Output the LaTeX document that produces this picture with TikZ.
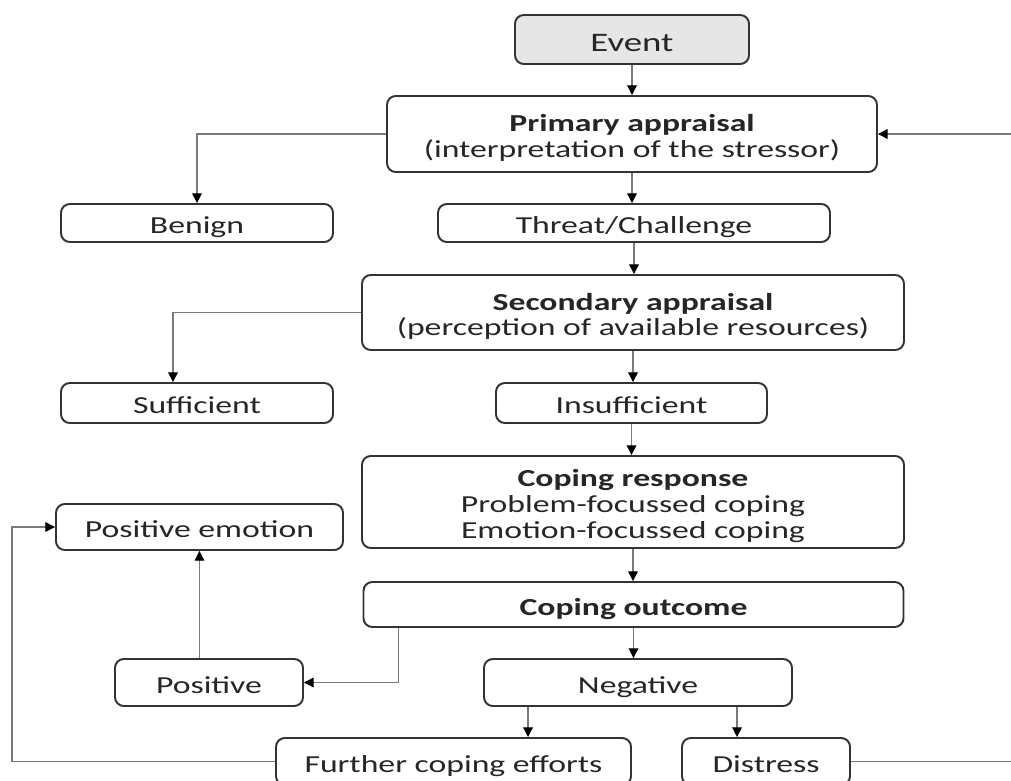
\documentclass[tikz,border=0pt]{standalone}
\usepackage{fontspec}
\setmainfont{Carlito}[FakeStretch=1.38]
\usepackage{tikz}
\usetikzlibrary{arrows.meta,positioning,calc}
\definecolor{boxline}{HTML}{333333}
\definecolor{linkcol}{HTML}{7A7A7A}
\definecolor{eventbg}{HTML}{E6E6E6}
\definecolor{textcol}{HTML}{262626}

\begin{document}
\begin{tikzpicture}[x=0.02cm,y=-0.02cm,
  font=\fontsize{13.9}{14.6}\selectfont,
  box/.style={draw=boxline,line width=1.1pt,rounded corners=5pt,fill=white,
              inner sep=2pt,align=center,text=textcol,
              text height=12pt,text depth=0pt},
  twolines/.style={text height=26.6pt},
  threelines/.style={text height=41.2pt},
  sz/.style 2 args={minimum width=#1*0.02cm,minimum height=#2*0.02cm},
  link/.style={draw=linkcol,line width=0.7pt,
               -{Triangle[length=5.5pt,width=5.5pt,color=black]}},
]
\useasboundingbox (0,0) rectangle (1011,781);
\clip (0,0) rectangle (1011,781);

\node[box,fill=eventbg,sz={234}{49},font=\fontsize{15.2}{16}\selectfont,
      text height=13.2pt] (event) at (632,39.5) {Event};
\node[box,twolines,sz={490}{76}] (primary) at (632,134)
  {\textbf{Primary appraisal}\\(interpretation of the stressor)};
\node[box,sz={272}{38}] (benign) at (197,223) {Benign};
\node[box,sz={392}{38}] (threat) at (634,223) {Threat/Challenge};
\node[box,twolines,sz={542}{75}] (secondary) at (633,312.5)
  {\textbf{Secondary appraisal}\\(perception of available resources)};
\node[box,sz={272}{40}] (sufficient) at (197,403) {Sufficient};
\node[box,sz={271}{40}] (insufficient) at (631.5,403) {Insufficient};
\node[box,threelines,sz={542}{92}] (response) at (633,502)
  {\textbf{Coping response}\\Problem-focussed coping\\Emotion-focussed coping};
\node[box,sz={287}{46}] (posemo) at (199.5,527) {Positive emotion};
\node[box,sz={540}{45}] (outcome) at (633.5,604.5) {\textbf{Coping outcome}};
\node[box,sz={188}{47}] (positive) at (209,682.5) {Positive};
\node[box,sz={308}{47}] (negative) at (638,682.5) {Negative};
\node[box,sz={355}{47}] (further) at (453.5,761.5) {Further coping efforts};
\node[box,sz={168}{47}] (distress) at (766,761.5) {Distress};

% turning points of the feedback loops lie at the page edges
\coordinate (lft) at (12,0);
\coordinate (rgt) at (1030,0);
\coordinate (sufin) at ($(sufficient.north)+(-24,0)$);
\coordinate (outL) at ($(outcome.south west)+(36,0)$);
\coordinate (negL) at ($(negative.south west)+(45,0)$);
\coordinate (negR) at ($(negative.south west)+(254,0)$);

\draw[link] (event.south) -- (event.south |- primary.north);
\draw[link] (primary.west) -| (benign.north);
\draw[link] (primary.south) -- (primary.south |- threat.north);
\draw[link] (threat.south) -- (threat.south |- secondary.north);
\draw[link] (secondary.west) -| (sufin);
\draw[link] (secondary.south) -- (secondary.south |- insufficient.north);
\draw[link] (insufficient.south) -- (insufficient.south |- response.north);
\draw[link] (response.south) -- (response.south |- outcome.north);
\draw[link] (outcome.south) -- (outcome.south |- negative.north);
\draw[link] (outL) |- (positive.east);
\draw[link] (posemo.south |- positive.north) -- (posemo.south);
\draw[link] (negL) -- (negL |- further.north);
\draw[link] (negR) -- (negR |- distress.north);
\draw[link] (further.west) -- (further.west -| lft) |- (posemo.west);
\draw[link] (distress.east) -- (distress.east -| rgt) |- (primary.east);
\end{tikzpicture}
\end{document}
